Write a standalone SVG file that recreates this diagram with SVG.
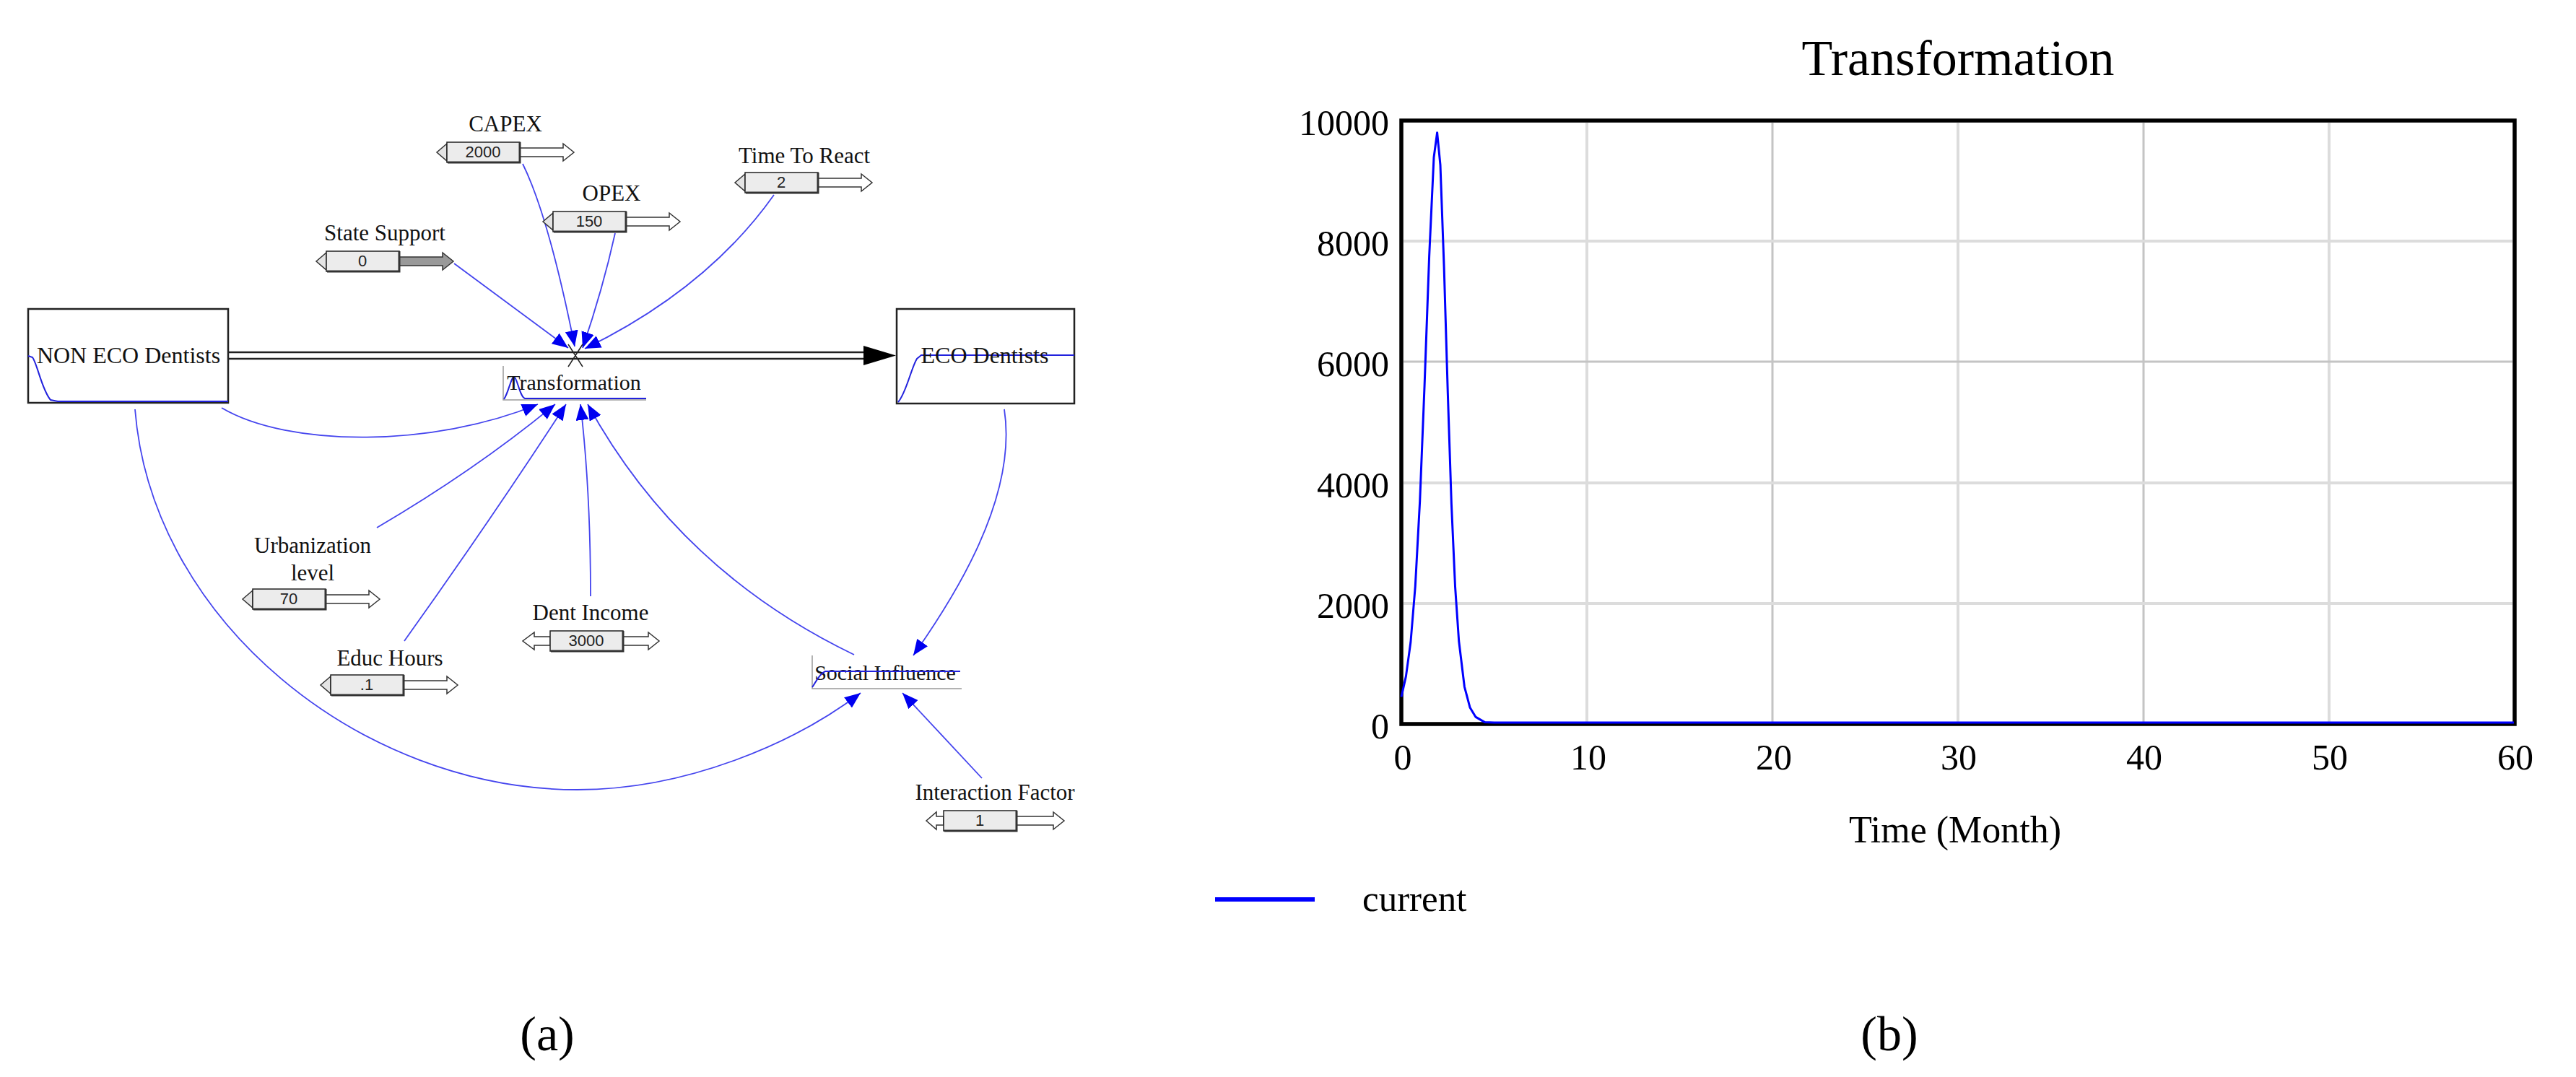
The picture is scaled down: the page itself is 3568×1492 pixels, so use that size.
<svg xmlns="http://www.w3.org/2000/svg" xmlns:xlink="http://www.w3.org/1999/xlink" width="3568" height="1492" viewBox="0 0 3568 1492">
<style>
  .lbl{font-family:"Liberation Serif","Times New Roman",serif;font-size:31px;fill:#111;text-anchor:middle}
  .stk{font-family:"Liberation Serif","Times New Roman",serif;font-size:32px;fill:#111;text-anchor:middle}
  .aux{font-family:"Liberation Serif","Times New Roman",serif;font-size:30px;fill:#111;text-anchor:middle}
  .val{font-family:"Liberation Sans","Arial",sans-serif;font-size:22px;fill:#222;text-anchor:middle}
  .box{fill:#ececec;stroke:#222;stroke-width:1.5}
  .shd{fill:none;stroke:#333;stroke-width:3}
  .arrw{fill:#fff;stroke:#333;stroke-width:1.5;stroke-linejoin:miter}
  .notch{fill:#e4e4e4;stroke:#333;stroke-width:1.5}
  .lnk{fill:none;stroke:#4444ee;stroke-width:1.8}
  .mini{fill:none;stroke:#2222dd;stroke-width:2}
  .lblbox{fill:none;stroke:#999;stroke-width:1.5}
  .stock{fill:#fff;stroke:#222;stroke-width:2.5}
  .pipe{stroke:#222;stroke-width:2.5}
  .ax{font-family:"Liberation Serif","Times New Roman",serif;font-size:50px;fill:#000}
  .gl{stroke:#dcdcdc;stroke-width:4}
  .gd{stroke:#c4c4c4;stroke-width:3}
  .cap{font-family:"Liberation Serif","Times New Roman",serif;font-size:68px;fill:#000;text-anchor:middle}
</style>
<defs>
  <marker id="ah" markerUnits="userSpaceOnUse" markerWidth="24" markerHeight="18" viewBox="0 0 24 18" refX="22" refY="9" orient="auto">
    <path d="M0,0 L22,9 L0,18 Z" fill="#0000f0"/>
  </marker>
  <g id="cA">
    <polygon class="notch" points="0,2 -14,14 0,26"/>
    <polygon class="arrw" points="101,8 161,8 161,2 176,14 161,26 161,20 101,20"/>
    <rect class="box" x="0" y="0" width="101" height="28"/>
    <polyline class="shd" points="1,28 101,28 101,0"/>
  </g>
  <g id="cAg">
    <polygon class="notch" points="0,2 -14,14 0,26"/>
    <polygon class="arrw" style="fill:#999" points="101,8 161,8 161,2 176,14 161,26 161,20 101,20"/>
    <rect class="box" x="0" y="0" width="101" height="28"/>
    <polyline class="shd" points="1,28 101,28 101,0"/>
  </g>
</defs>
<rect x="0" y="0" width="3568" height="1492" fill="#fff"/>

<!-- connectors -->
<g id="connectors">
  <path class="lnk" d="M629,365 L787,482" marker-end="url(#ah)"/>
  <path class="lnk" d="M724,227 Q760,300 796,480" marker-end="url(#ah)"/>
  <path class="lnk" d="M852,323 Q835,400 807,482" marker-end="url(#ah)"/>
  <path class="lnk" d="M1072,270 Q980,400 810,483" marker-end="url(#ah)"/>
  <path class="lnk" d="M307,565 C400,620 600,620 745,560" marker-end="url(#ah)"/>
  <path class="lnk" d="M522,731 Q660,650 769,560" marker-end="url(#ah)"/>
  <path class="lnk" d="M560,888 Q680,720 784,560" marker-end="url(#ah)"/>
  <path class="lnk" d="M818,826 Q818,680 804,560" marker-end="url(#ah)"/>
  <path class="lnk" d="M1183,907 Q940,790 814,560" marker-end="url(#ah)"/>
  <path class="lnk" d="M187,567 C210,860 500,1094 800,1094 C950,1094 1100,1030 1192,960" marker-end="url(#ah)"/>
  <path class="lnk" d="M1391,567 C1410,690 1320,830 1265,908" marker-end="url(#ah)"/>
  <path class="lnk" d="M1360,1078 L1250,960" marker-end="url(#ah)"/>
</g>

<!-- flow pipe -->
<g id="flow">
  <line class="pipe" x1="316" y1="488" x2="1200" y2="488"/>
  <line class="pipe" x1="316" y1="497" x2="1200" y2="497"/>
  <polygon points="1196,479 1241,492.5 1196,506" fill="#000"/>
  <line x1="787" y1="477" x2="807" y2="508" stroke="#222" stroke-width="1.5"/>
  <line x1="807" y1="477" x2="787" y2="508" stroke="#222" stroke-width="1.5"/>
</g>

<g id="node-non-eco">
  <rect class="stock" x="39" y="428" width="277" height="130"/>
  <path class="mini" d="M39,493 L45,495 C52,505 58,540 70,554 L80,556 L316,556"/>
  <text class="stk" x="178" y="503">NON ECO Dentists</text>
</g>
<g id="node-eco">
  <rect class="stock" x="1242" y="428" width="246" height="131"/>
  <path class="mini" d="M1244,557 C1255,545 1262,510 1270,497 L1276,492 L1488,492"/>
  <text class="stk" x="1364" y="503">ECO Dentists</text>
</g>
<g id="node-transformation">
  <polyline class="lblbox" points="697,507 697,554 895,554"/>
  <path class="mini" d="M698,553 C704,545 708,522 712,522 C716,522 720,550 727,552 L895,552"/>
  <text class="aux" x="795" y="540">Transformation</text>
</g>
<g id="node-social">
  <polyline class="lblbox" points="1125,908 1125,954 1332,954"/>
  <text class="aux" x="1226" y="942">Social Influence</text>
  <path class="mini" d="M1125,952 C1130,945 1135,933 1143,930 L1330,930"/>
</g>

<g id="node-capex">
  <text class="lbl" x="700" y="182">CAPEX</text>
  <use xlink:href="#cA" x="619" y="197"/>
  <text class="val" x="669" y="218">2000</text>
</g>
<g id="node-opex">
  <text class="lbl" x="847" y="278">OPEX</text>
  <use xlink:href="#cA" x="766" y="293"/>
  <text class="val" x="816" y="314">150</text>
</g>
<g id="node-state-support">
  <text class="lbl" x="533" y="333">State Support</text>
  <use xlink:href="#cAg" x="452" y="348"/>
  <text class="val" x="502" y="369">0</text>
</g>
<g id="node-time-to-react">
  <text class="lbl" x="1114" y="226">Time To React</text>
  <use xlink:href="#cA" x="1032" y="239"/>
  <text class="val" x="1082" y="260">2</text>
</g>
<g id="node-urbanization">
  <text class="lbl" x="433" y="766">Urbanization</text>
  <text class="lbl" x="433" y="804">level</text>
  <use xlink:href="#cA" x="350" y="816"/>
  <text class="val" x="400" y="837">70</text>
</g>
<g id="node-educ-hours">
  <text class="lbl" x="540" y="922">Educ Hours</text>
  <use xlink:href="#cA" x="458" y="935"/>
  <text class="val" x="508" y="956">.1</text>
</g>
<g id="node-dent-income">
  <text class="lbl" x="818" y="859">Dent Income</text>
  <polygon class="arrw" points="762,882 740,882 740,876 724,888 740,900 740,894 762,894"/>
  <polygon class="arrw" points="863,882 898,882 898,876 913,888 898,900 898,894 863,894"/>
  <rect class="box" x="762" y="874" width="101" height="28"/>
  <polyline class="shd" points="763,902 863,902 863,874"/>
  <text class="val" x="812" y="895">3000</text>
</g>
<g id="node-interaction">
  <text class="lbl" x="1378" y="1108">Interaction Factor</text>
  <polygon class="arrw" points="1307,1131 1297,1131 1297,1125 1283,1137 1297,1149 1297,1143 1307,1143"/>
  <polygon class="arrw" points="1408,1131 1459,1131 1459,1125 1474,1137 1459,1149 1459,1143 1408,1143"/>
  <rect class="box" x="1307" y="1123" width="101" height="28"/>
  <polyline class="shd" points="1308,1151 1408,1151 1408,1123"/>
  <text class="val" x="1357" y="1144">1</text>
</g>

<text class="cap" x="758" y="1455">(a)</text>

<!-- chart -->
<g id="chart">
  <text x="2712" y="104" font-family="Liberation Serif, Times New Roman, serif" font-size="70" text-anchor="middle">Transformation</text>
  <line class="gl" x1="2198" y1="170" x2="2198" y2="1000"/>
  <line class="gd" x1="2455" y1="170" x2="2455" y2="1000"/>
  <line class="gl" x1="2712" y1="170" x2="2712" y2="1000"/>
  <line class="gd" x1="2969" y1="170" x2="2969" y2="1000"/>
  <line class="gl" x1="3226" y1="170" x2="3226" y2="1000"/>
  <line class="gl" x1="1944" y1="334" x2="3480" y2="334"/>
  <line class="gd" x1="1944" y1="501" x2="3480" y2="501"/>
  <line class="gl" x1="1944" y1="669" x2="3480" y2="669"/>
  <line class="gl" x1="1944" y1="836" x2="3480" y2="836"/>
  <rect x="1941" y="167" width="1542" height="836" fill="none" stroke="#000" stroke-width="5.5"/>
  <polyline fill="none" stroke="#0000ff" stroke-width="3" stroke-linejoin="round" points="1941,965.3 1947.4,936.9 1953.9,889.5 1960.3,812 1966.7,694 1973.1,534 1979.6,355.4 1986,218 1990.6,183.7 1995,228.5 2000.1,369.5 2005.3,543.7 2010.4,698.2 2015.5,812.3 2020.7,888 2028.4,951.3 2036.1,980.3 2043.8,993.1 2056.7,1000.6 2069.5,1001 3482,1001"/>
  <g class="ax" text-anchor="end">
    <text x="1924" y="187">10000</text>
    <text x="1924" y="354">8000</text>
    <text x="1924" y="521">6000</text>
    <text x="1924" y="689">4000</text>
    <text x="1924" y="856">2000</text>
    <text x="1924" y="1023">0</text>
  </g>
  <g class="ax" text-anchor="middle">
    <text x="1943" y="1066">0</text>
    <text x="2200" y="1066">10</text>
    <text x="2457" y="1066">20</text>
    <text x="2713" y="1066">30</text>
    <text x="2970" y="1066">40</text>
    <text x="3227" y="1066">50</text>
    <text x="3484" y="1066">60</text>
  </g>
  <text x="2708" y="1167" font-family="Liberation Serif, Times New Roman, serif" font-size="52" text-anchor="middle">Time (Month)</text>
  <line x1="1683" y1="1246" x2="1821" y2="1246" stroke="#0000ff" stroke-width="6"/>
  <text x="1887" y="1262" font-family="Liberation Serif, Times New Roman, serif" font-size="51">current</text>
</g>
<text class="cap" x="2617" y="1455">(b)</text>
</svg>
